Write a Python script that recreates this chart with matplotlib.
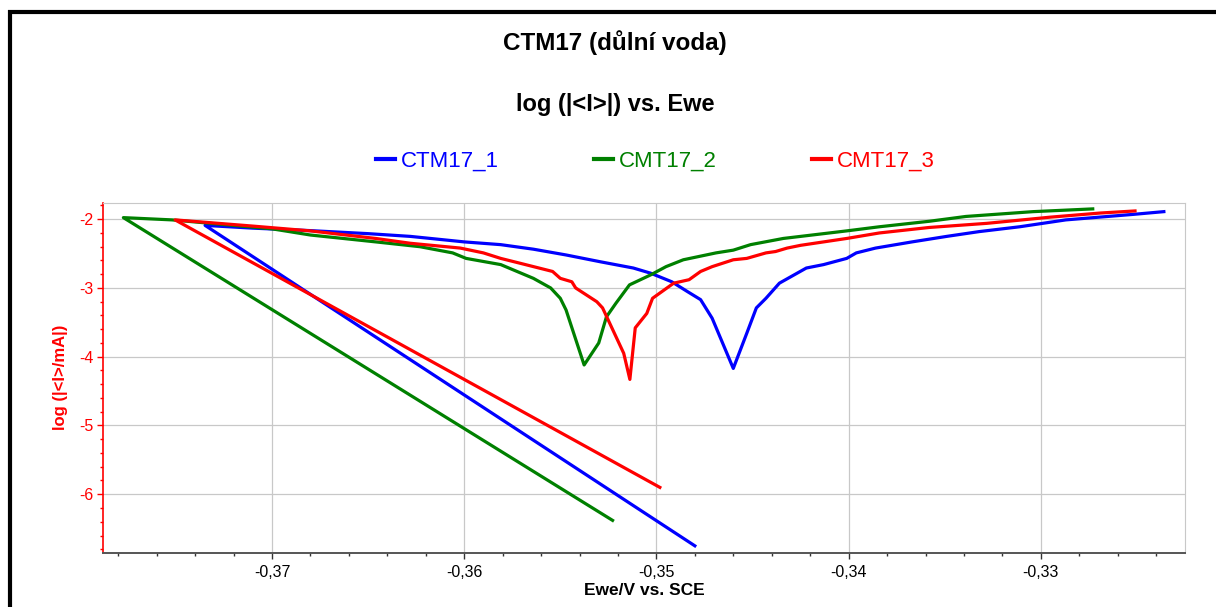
import numpy as np
import matplotlib.pyplot as plt
from matplotlib.ticker import FuncFormatter, MultipleLocator
from matplotlib.lines import Line2D

plt.rcParams['font.family'] = ['Liberation Sans', 'DejaVu Sans']

# CTM17_1 (blue)
x1 = [-0.3480, -0.37348, -0.3710, -0.3680, -0.3650, -0.3628, -0.3600, -0.3581,
      -0.3564, -0.3547, -0.3529, -0.3512, -0.3503, -0.3492, -0.3484, -0.3477,
      -0.3471, -0.3460, -0.3453, -0.3448, -0.3443, -0.3436, -0.3422, -0.3413,
      -0.3401, -0.3396, -0.3386, -0.3367, -0.3349, -0.3332, -0.3311, -0.3287,
      -0.3252, -0.3236]
y1 = [-6.75, -2.09, -2.13, -2.166, -2.21, -2.25, -2.33, -2.37,
      -2.436, -2.52, -2.62, -2.71, -2.785, -2.91, -3.05, -3.17,
      -3.44, -4.17, -3.66, -3.29, -3.15, -2.93, -2.71, -2.66,
      -2.57, -2.49, -2.42, -2.33, -2.25, -2.18, -2.11, -2.01,
      -1.93, -1.89]

# CMT17_2 (green)
x2 = [-0.35228, -0.37773, -0.3752, -0.3700, -0.3680, -0.3663, -0.3646, -0.3623,
      -0.3606, -0.3599, -0.3581, -0.3564, -0.3555, -0.3550, -0.3547, -0.35376,
      -0.3530, -0.3526, -0.3521, -0.3514, -0.3503, -0.3495, -0.3486, -0.3469,
      -0.3460, -0.3451, -0.3434, -0.3425, -0.3401, -0.3384, -0.3358, -0.3339,
      -0.3304, -0.3273]
y2 = [-6.38, -1.977, -2.01, -2.14, -2.23, -2.28, -2.33, -2.40,
      -2.49, -2.57, -2.66, -2.86, -3.00, -3.15, -3.32, -4.12,
      -3.80, -3.42, -3.22, -2.955, -2.81, -2.69, -2.59, -2.49,
      -2.45, -2.37, -2.28, -2.25, -2.17, -2.11, -2.03, -1.96,
      -1.89, -1.85]

# CMT17_3 (red)
x3 = [-0.34982, -0.37504, -0.3710, -0.3680, -0.3646, -0.3628, -0.3602, -0.3590,
      -0.3581, -0.3571, -0.3554, -0.3550, -0.3544, -0.3542, -0.3531, -0.3528,
      -0.3521, -0.3517, -0.35138, -0.3511, -0.3505, -0.3502, -0.3497, -0.3491,
      -0.3483, -0.3477, -0.3471, -0.3460, -0.3453, -0.3443, -0.3438, -0.3432,
      -0.3425, -0.3401, -0.3384, -0.3358, -0.3328, -0.3295, -0.3269, -0.3251]
y3 = [-5.90, -2.01, -2.10, -2.17, -2.28, -2.35, -2.42, -2.49,
      -2.57, -2.64, -2.76, -2.86, -2.91, -3.00, -3.20, -3.29,
      -3.71, -3.95, -4.33, -3.58, -3.37, -3.15, -3.05, -2.93,
      -2.88, -2.76, -2.69, -2.59, -2.57, -2.49, -2.47, -2.42,
      -2.38, -2.28, -2.20, -2.12, -2.06, -1.97, -1.91, -1.88]

labels = ['CTM17_1', 'CMT17_2', 'CMT17_3']
colors = ['#0000ff', '#008000', '#ff0000']

fig = plt.figure(figsize=(12.16, 6.07), dpi=100)
ax = fig.add_axes([103/1216, 1 - 552.7/607, 1082/1216, 350/607])

for xs, ys, lab, c in zip([x1, x2, x3], [y1, y2, y3], labels, colors):
    ax.plot(xs, ys, color=c, lw=2.3, label=lab, solid_joinstyle='round')

ax.set_xlim(-0.37879, -0.3225)
ax.set_ylim(-6.85, -1.76)

ax.xaxis.set_major_locator(MultipleLocator(0.01))
ax.xaxis.set_minor_locator(MultipleLocator(0.002))
ax.yaxis.set_major_locator(MultipleLocator(1))
ax.yaxis.set_minor_locator(MultipleLocator(0.2))
ax.xaxis.set_major_formatter(FuncFormatter(lambda v, p: f"{v:.2f}".replace('.', ',')))
ax.yaxis.set_major_formatter(FuncFormatter(lambda v, p: f"{v:.0f}"))

ax.grid(True, which='major', color='#c8c8c8', lw=0.9)
ax.set_axisbelow(True)

ax.spines['top'].set_color('#c8c8c8')
ax.spines['right'].set_color('#c8c8c8')
ax.spines['left'].set_color('#ff0000')
ax.spines['bottom'].set_color('#555555')
ax.spines['left'].set_linewidth(1.2)
ax.spines['bottom'].set_linewidth(1.4)

ax.tick_params(axis='x', which='major', length=4, width=1, color='#333333', labelsize=11.5, pad=5)
ax.tick_params(axis='x', which='minor', length=2.5, width=1, color='#333333')
ax.tick_params(axis='y', which='major', length=4, width=1, color='#ff0000', labelcolor='#ff0000', labelsize=11.5, pad=3)
ax.tick_params(axis='y', which='minor', length=2.5, width=1, color='#ff0000')

ax.set_xlabel('Ewe/V vs. SCE', fontsize=12.5, fontweight='bold', labelpad=2)
ax.set_ylabel('log (|<I>/mA|)', fontsize=12, fontweight='bold', color='#ff0000', labelpad=8)

fig.text(0.506, 1 - 43/607, 'CTM17 (důlní voda)', ha='center', va='center', fontsize=17.5, fontweight='bold')
fig.text(0.506, 1 - 104/607, 'log (|<I>|) vs. Ewe', ha='center', va='center', fontsize=17, fontweight='bold')

leg = ax.legend(loc='center', bbox_to_anchor=(0.539, 1 - 161/607), bbox_transform=fig.transFigure,
                ncol=3, frameon=False, fontsize=16, handlelength=0.85, handletextpad=0.25,
                columnspacing=4.3, labelcolor='linecolor')
for h in leg.get_lines():
    h.set_linewidth(3)

# outer border (top and left only visible)
fig.add_artist(Line2D([8/1216, 1], [1 - 12/607, 1 - 12/607], transform=fig.transFigure,
                      color='black', lw=3, solid_capstyle='butt'))
fig.add_artist(Line2D([10/1216, 10/1216], [0, 1 - 10/607], transform=fig.transFigure,
                      color='black', lw=3, solid_capstyle='butt'))

fig.savefig('out.png', dpi=100)
